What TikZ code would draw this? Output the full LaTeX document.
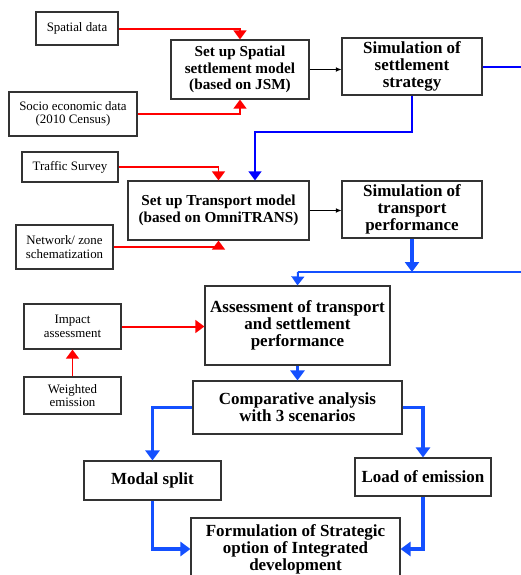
\documentclass[tikz,border=0pt]{standalone}
\usepackage{fontspec}
\setmainfont{Liberation Serif}
\usetikzlibrary{arrows.meta}
\definecolor{lowblue}{RGB}{20,80,255}

\begin{document}
\begin{tikzpicture}[x=0.03cm, y=-0.03cm,
  databox/.style={draw=black!80, line width=0.9pt, align=center, inner sep=0pt,
    font=\fontsize{11}{11.5}\selectfont},
  stepbox/.style={draw=black!80, line width=0.9pt, align=center, inner sep=0pt,
    font=\fontsize{14.5}{14.5}\selectfont\bfseries},
  setbox/.style={stepbox, font=\fontsize{13}{14}\selectfont\bfseries},
  redarr/.style={red, line width=1.7pt, -{Triangle[width=0.38cm,length=0.27cm]}},
  bluearr/.style={blue, line width=1.7pt, -{Triangle[width=0.38cm,length=0.27cm]}},
  lowarr/.style={lowblue, line width=2.8pt, -{Triangle[width=0.42cm,length=0.3cm]}},
  thinarr/.style={black, line width=0.6pt, -{Latex[width=0.14cm,length=0.17cm]}}]
  % page frame (pixel units of the original figure)
  \useasboundingbox (0,0) rectangle (521,575);

  % input data (left column)
  \node[databox, minimum width=2.46cm, minimum height=0.99cm] (spatial) at (77,28.5) {Spatial data};
  \node[databox, minimum width=3.84cm, minimum height=1.32cm] (socio) at (73,114) {Socio economic data\\(2010 Census)};
  \node[databox, minimum width=2.88cm, minimum height=0.9cm] (traffic) at (70,167) {Traffic Survey};
  \node[databox, minimum width=2.91cm, minimum height=1.32cm] (network) at (64.5,247) {Network/ zone\\schematization};
  \node[databox, minimum width=2.91cm, minimum height=1.35cm] (impact) at (72.5,326.5) {Impact\\assessment};
  \node[databox, minimum width=2.91cm, minimum height=1.11cm] (weighted) at (72.5,395.5) {Weighted\\emission};

  % modelling steps
  \node[setbox, minimum width=4.14cm, minimum height=1.77cm] (setupS) at (240,69.5) {Set up Spatial\\settlement model\\(based on JSM)};
  \node[stepbox, minimum width=4.2cm, minimum height=1.71cm] (simS) at (412,66.5) {Simulation of\\settlement\\strategy};
  \node[setbox, minimum width=5.43cm, minimum height=1.77cm] (setupT) at (218.5,210.5) {Set up Transport model\\(based on OmniTRANS)};
  \node[stepbox, minimum width=4.2cm, minimum height=1.71cm] (simT) at (412,209.5) {Simulation of\\transport\\performance};
  \node[stepbox, minimum width=5.55cm, minimum height=2.37cm] (assess) at (297.5,325.5) {Assessment of transport\\and settlement\\performance};
  \node[stepbox, minimum width=6.27cm, minimum height=1.59cm] (compar) at (297.5,407.5) {Comparative analysis\\with 3 scenarios};
  \node[stepbox, minimum width=4.11cm, minimum height=1.17cm] (modal) at (152.5,480.5) {Modal split};
  \node[stepbox, minimum width=4.08cm, minimum height=1.14cm] (load) at (423,477) {Load of emission};
  \node[stepbox, minimum width=6.27cm, minimum height=1.86cm] (formul) at (295.5,549) {Formulation of Strategic\\option of Integrated\\development};

  % helper points for the blue lines
  \coordinate (sEdge) at (526,66.5);
  \coordinate (sKnee) at (255,132);
  \coordinate (tJoin) at (412,272);
  \coordinate (tLeft) at (298,272);
  \coordinate (tEdge) at (526,272);

  % red inputs
  \draw[redarr] (spatial.east) -| (setupS.north);
  \draw[redarr] (socio.east) -| (setupS.south);
  \draw[redarr] (traffic.east) -| (setupT.north);
  \draw[redarr] (network.east) -| (setupT.south);
  \draw[redarr] (impact.east) -- (impact.east -| assess.west);
  \draw[redarr] (weighted.north) -- (impact.south);

  % black links
  \draw[thinarr] (setupS.east) -- (setupS.east -| simS.west);
  \draw[thinarr] (setupT.east) -- (setupT.east -| simT.west);

  % blue flow
  \draw[blue, line width=1.7pt] (simS.east) -- (sEdge);
  \draw[bluearr] (simS.south) |- (sKnee) -- (sKnee |- setupT.north);
  \draw[lowarr] (simT.south) -- (tJoin);
  \draw[lowblue, line width=2pt] (tLeft) -- (tEdge);
  \draw[bluearr, lowblue] (tLeft) -- (assess.north);
  \draw[lowarr] (assess.south) -- (compar.north);
  \draw[lowarr] (compar.west) -| (modal.north);
  \draw[lowarr] (compar.east) -| (load.north);
  \draw[lowarr] (modal.south) |- (formul.west);
  \draw[lowarr] (load.south) |- (formul.east);
\end{tikzpicture}
\end{document}
